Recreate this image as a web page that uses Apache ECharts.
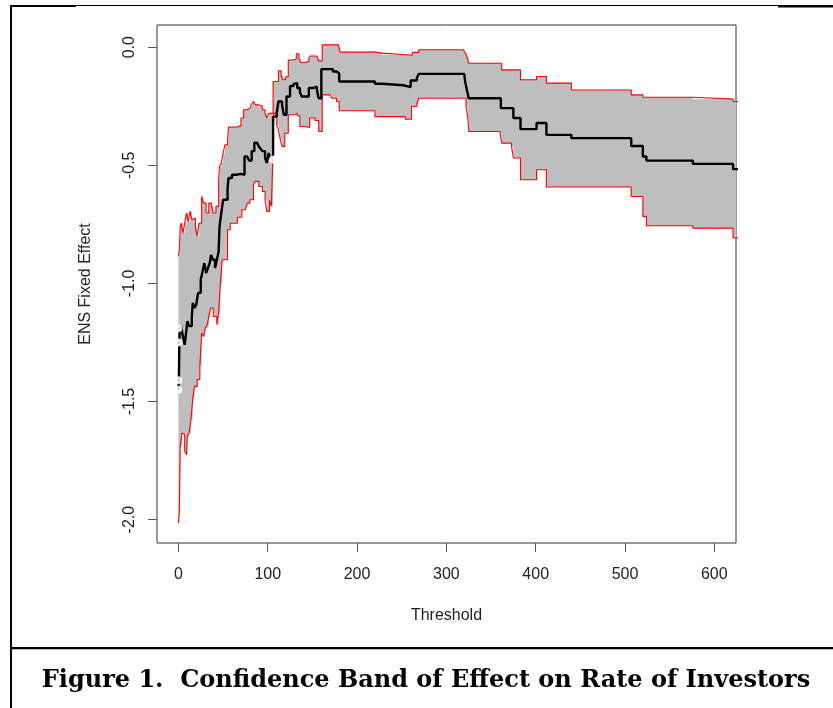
<!DOCTYPE html>
<html>
<head>
<meta charset="utf-8">
<script src="https://cdn.jsdelivr.net/npm/echarts@6/dist/echarts.min.js"></script>
<style>
html,body{margin:0;padding:0;background:#fff;}
#chart{width:833px;height:708px;}
</style>
</head>
<body>
<div id="chart"></div>
<script>
// Step data: each [x, y] means value y starting at threshold x
var upperBand = [[0,-0.886],[1,-0.857],[2,-0.76],[3,-0.745],[5,-0.787],[7,-0.745],[9,-0.702],[11,-0.738],[13,-0.695],[15,-0.73],[17,-0.723],[19,-0.766],[21,-0.80],[23,-0.745],[26,-0.632],[28,-0.66],[31,-0.702],[34,-0.66],[37,-0.672],[39,-0.702],[42,-0.674],[45,-0.56],[46,-0.505],[48,-0.49],[50,-0.45],[52,-0.413],[55,-0.40],[56,-0.338],[66,-0.333],[70,-0.30],[73,-0.265],[77,-0.258],[80,-0.251],[82,-0.24],[84,-0.23],[86,-0.244],[90,-0.25],[94,-0.265],[97,-0.28],[99,-0.30],[101,-0.28],[106,-0.145],[112,-0.10],[115,-0.12],[117,-0.138],[120,-0.125],[123,-0.054],[128,-0.05],[132,-0.028],[135,-0.05],[137,-0.065],[142,-0.06],[146,-0.047],[148,-0.037],[155,-0.04],[157,-0.058],[161,0.01],[179,0.003],[181,-0.021],[220,-0.025],[228,-0.033],[259,-0.033],[262,-0.022],[269,-0.011],[319,-0.011],[321,-0.025],[323,-0.04],[325,-0.068],[362,-0.096],[383,-0.138],[401,-0.124],[412,-0.152],[440,-0.181],[507,-0.202],[520,-0.212],[576,-0.22],[621,-0.23],[630,-0.23]];

var estimate = [[0,-1.45],[0.5,-1.41],[1,-1.25],[1.5,-1.19],[3,-1.18],[5,-1.225],[7,-1.26],[9,-1.196],[10,-1.16],[12,-1.18],[15,-1.14],[16,-1.083],[18,-1.104],[20,-1.09],[22,-1.04],[25,-0.984],[27,-0.95],[29,-0.914],[31,-0.956],[33,-0.935],[35,-0.914],[36.5,-0.879],[38.5,-0.90],[41,-0.935],[43,-0.90],[45,-0.865],[46,-0.759],[48,-0.702],[50,-0.646],[55,-0.60],[56,-0.554],[60,-0.54],[65,-0.536],[70,-0.54],[74,-0.463],[77,-0.455],[79,-0.48],[82,-0.44],[85,-0.404],[88,-0.41],[90,-0.42],[92,-0.43],[94,-0.44],[97,-0.47],[99,-0.49],[101,-0.448],[103,-0.47],[105,-0.463],[106,-0.294],[110,-0.28],[112,-0.23],[116,-0.244],[118,-0.286],[121,-0.209],[125,-0.164],[129,-0.155],[131,-0.152],[133,-0.173],[136,-0.19],[138,-0.209],[142,-0.209],[146,-0.173],[151,-0.167],[155,-0.18],[157,-0.216],[160,-0.093],[170,-0.093],[173,-0.103],[177,-0.11],[180,-0.145],[220,-0.155],[228,-0.161],[252,-0.169],[260,-0.141],[267,-0.13],[269,-0.113],[320,-0.113],[321,-0.145],[323,-0.181],[325,-0.216],[361,-0.258],[375,-0.30],[383,-0.347],[401,-0.321],[412,-0.371],[440,-0.385],[507,-0.418],[520,-0.463],[524,-0.48],[576,-0.494],[621,-0.516],[630,-0.516]];

var lowerBand = [[0,-2.014],[1,-1.965],[2,-1.69],[4,-1.633],[6,-1.64],[7,-1.71],[9,-1.725],[10,-1.647],[12,-1.633],[14,-1.577],[16,-1.49],[18,-1.436],[21,-1.407],[24,-1.35],[26,-1.21],[28,-1.225],[30,-1.19],[32,-1.18],[34,-1.14],[36,-1.104],[39,-1.14],[43,-1.175],[45,-1.125],[47,-0.998],[49,-0.90],[55,-0.773],[58,-0.745],[66,-0.72],[71,-0.688],[75,-0.681],[77,-0.66],[80,-0.646],[84,-0.582],[86,-0.568],[90,-0.59],[94,-0.611],[97,-0.646],[99,-0.695],[102,-0.646],[104,-0.674],[106,-0.434],[106.7,-0.28],[110,-0.33],[112,-0.35],[114,-0.39],[116,-0.42],[119,-0.364],[123,-0.286],[129,-0.28],[133,-0.29],[136,-0.336],[142,-0.34],[147,-0.30],[153,-0.31],[157,-0.357],[161,-0.202],[170,-0.202],[172,-0.216],[177,-0.23],[180,-0.269],[220,-0.294],[254,-0.305],[261,-0.251],[267,-0.24],[269,-0.216],[322,-0.251],[324,-0.30],[325,-0.357],[360,-0.364],[362,-0.406],[373,-0.42],[375,-0.469],[383,-0.561],[401,-0.519],[412,-0.592],[507,-0.632],[520,-0.716],[524,-0.756],[576,-0.766],[621,-0.808],[630,-0.808]];

var startPoints = [[0,-1.19],[0,-1.25],[0,-1.41],[0,-1.45],[106,-0.475]];

var xTicks = [0,100,200,300,400,500,600];
var yTicks = [-2.0,-1.5,-1.0,-0.5,0.0];
var caption = 'Figure 1.  Confidence Band of Effect on Rate of Investors';

function stepVertices(arr){
  var out = [];
  for (var i = 0; i < arr.length; i++){
    if (i > 0) out.push([arr[i][0], arr[i-1][1]]);
    out.push([arr[i][0], arr[i][1]]);
  }
  return out;
}

var chart = echarts.init(document.getElementById('chart'), null, {renderer:'canvas'});
var axisText = {color:'#222', fontFamily:'Liberation Sans, Arial, sans-serif', fontSize:16};

var option = {
  backgroundColor:'#fff',
  animation:false,
  grid:{left:157, top:25, right:97, bottom:165, show:true, borderColor:'#333', borderWidth:1, backgroundColor:'transparent', containLabel:false},
  xAxis:{
    type:'value', min:-24, max:624.3,
    axisLine:{show:false, onZero:false},
    splitLine:{show:false},
    axisTick:{show:true, length:9, inside:false, lineStyle:{color:'#555'}, customValues:xTicks},
    axisLabel:Object.assign({margin:24, customValues:xTicks, formatter:function(v){return String(v);}}, axisText),
    name:'Threshold', nameLocation:'middle', nameGap:65,
    nameTextStyle:axisText
  },
  yAxis:{
    type:'value', min:-2.099, max:0.094,
    axisLine:{show:false, onZero:false},
    splitLine:{show:false},
    axisTick:{show:true, length:9, inside:false, lineStyle:{color:'#555'}, customValues:yTicks},
    axisLabel:Object.assign({margin:19, rotate:90, customValues:yTicks, formatter:function(v){return v.toFixed(1);}}, axisText),
    name:'ENS Fixed Effect', nameLocation:'middle', nameGap:63, nameRotate:90,
    nameTextStyle:axisText
  },
  series:[
    {
      type:'custom',
      data:[[0,0]],
      encode:{x:0, y:1},
      silent:true,
      z:1,
      renderItem:function(params, api){
        var up = stepVertices(upperBand);
        var lo = stepVertices(lowerBand).reverse();
        var pts = up.concat(lo).map(function(p){return api.coord(p);});
        var cs = params.coordSys;
        return {
          type:'polygon',
          shape:{points:pts},
          style:{fill:'#bebebe', stroke:null},
          clipPath:{type:'rect', shape:{x:cs.x, y:cs.y, width:cs.width, height:cs.height}}
        };
      }
    },
    {type:'line', data:upperBand, step:'end', showSymbol:false, symbol:'none', clip:true, z:3,
      lineStyle:{color:'#ff0000', width:1.1}},
    {type:'line', data:lowerBand, step:'end', showSymbol:false, symbol:'none', clip:true, z:3,
      lineStyle:{color:'#ff0000', width:1.1}},
    {type:'line', data:estimate, step:'end', showSymbol:false, symbol:'none', clip:true, z:4,
      lineStyle:{color:'#000', width:2.4}},
    {type:'scatter', data:startPoints, symbol:'emptyCircle', symbolSize:6, z:5,
      itemStyle:{color:'#fff', borderColor:'#555', borderWidth:1}}
  ],
  graphic:[
    {type:'rect', shape:{x:10, y:5, width:66, height:2}, style:{fill:'#000'}, silent:true},
    {type:'rect', shape:{x:76, y:5, width:702, height:1}, style:{fill:'#000'}, silent:true},
    {type:'rect', shape:{x:778, y:5, width:55, height:2.5}, style:{fill:'#000'}, silent:true},
    {type:'rect', shape:{x:10, y:5, width:2, height:703}, style:{fill:'#000'}, silent:true},
    {type:'rect', shape:{x:10, y:647, width:823, height:2.2}, style:{fill:'#000'}, silent:true},
    {type:'text', x:426, y:681, silent:true,
      style:{text:caption, align:'center', verticalAlign:'middle', font:'bold 24px "DejaVu Serif", serif', fill:'#000'}}
  ]
};
chart.setOption(option);
</script>
</body>
</html>
